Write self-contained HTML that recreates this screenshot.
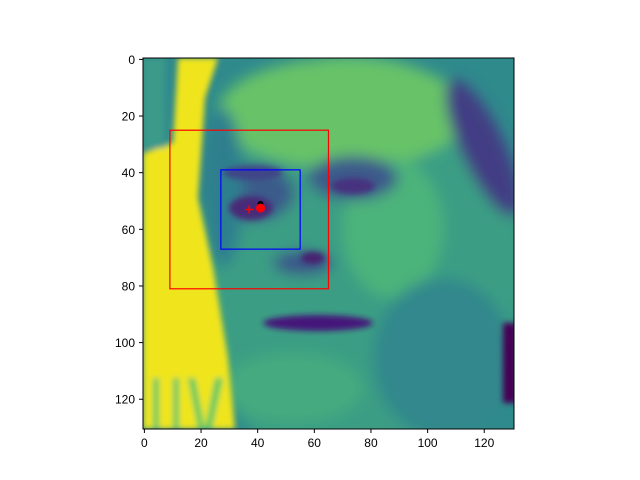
<!DOCTYPE html>
<html><head><meta charset="utf-8"><style>
body{margin:0;background:#fff;}
svg{display:block;font-family:"Liberation Sans",sans-serif;}
</style></head><body>
<svg width="640" height="480">
<defs>
<clipPath id="clip"><rect x="143" y="58" width="371" height="371"/></clipPath>
<filter id="blur" x="-20%" y="-20%" width="140%" height="140%"><feGaussianBlur stdDeviation="7"/></filter>
<filter id="blur2" x="-20%" y="-20%" width="140%" height="140%"><feGaussianBlur stdDeviation="3"/></filter>
</defs>
<g clip-path="url(#clip)">
<g transform="translate(143,58)">
<rect x="0" y="0" width="371" height="371" fill="#2f8a8c"/>
<g filter="url(#blur)">
<ellipse cx="215" cy="210" rx="165" ry="215" fill="#3a9e84"/>
<ellipse cx="200" cy="55" rx="125" ry="55" fill="#68c367"/>
<ellipse cx="250" cy="170" rx="50" ry="70" fill="#4cb47a"/>
<ellipse cx="300" cy="300" rx="70" ry="80" fill="#31888c"/>
<ellipse cx="150" cy="330" rx="70" ry="35" fill="#45aa7f"/>
<ellipse cx="340" cy="90" rx="22" ry="75" transform="rotate(-25 340 90)" fill="#433d84"/>
<ellipse cx="110" cy="135" rx="42" ry="28" fill="#3b5b8b"/>
<ellipse cx="210" cy="120" rx="45" ry="22" fill="#3e5a8b"/>
<ellipse cx="160" cy="205" rx="30" ry="12" fill="#3b528b"/>
<ellipse cx="80" cy="130" rx="20" ry="80" fill="#2f7f8e"/>
</g>
<g filter="url(#blur2)">
<ellipse cx="110" cy="115" rx="30" ry="7" fill="#414487"/>
<ellipse cx="108" cy="150" rx="22" ry="12" fill="#482a78"/>
<ellipse cx="210" cy="128" rx="22" ry="8" fill="#46337f"/>
<ellipse cx="175" cy="265" rx="55" ry="8" fill="#45187a"/>
<ellipse cx="170" cy="200" rx="12" ry="6" fill="#46206f"/>
<rect x="360" y="265" width="14" height="80" fill="#440154"/>
<polygon points="0,95 30,85 35,0 75,0 62,40 55,140 70,210 85,300 92,371 0,371" fill="#f0e51f"/>
<rect x="0" y="0" width="22" height="90" fill="#3a9a8a"/>
<rect x="10" y="320" width="6" height="51" fill="#5ec962"/>
<rect x="30" y="320" width="6" height="51" fill="#5ec962"/>
<polygon points="45,320 52,320 62,371 55,371" fill="#5ec962"/>
<polygon points="80,320 72,320 62,371 69,371" fill="#5ec962"/>
</g>
</g>
</g>
<rect x="143" y="58" width="371" height="371" fill="none" stroke="#000" stroke-width="1"/>
<g id="marks"></g>
<g id="xt" font-size="12" fill="#000"></g>
<g id="yt" font-size="12" fill="#000"></g>
<script>
const xTicks=[0,20,40,60,80,100,120];
const yTicks=[0,20,40,60,80,100,120];
const redBox=[9,25,65,81];
const blueBox=[27,39,55,67];
const plusPt=[37,53];
const redDot=[41,52.5];
const blackDot=[41,51];
const sx=v=>144.4+v*2.832, sy=v=>59.4+v*2.832;
const NS="http://www.w3.org/2000/svg";
function mk(t,a,p){const e=document.createElementNS(NS,t);for(const k in a)e.setAttribute(k,a[k]);p.appendChild(e);return e;}
const m=document.getElementById('marks');
let r=mk('rect',{x:sx(redBox[0]),y:sy(redBox[1]),width:sx(redBox[2])-sx(redBox[0]),height:sy(redBox[3])-sy(redBox[1]),fill:'none',stroke:'#f00','stroke-width':1.2},m);


let b=mk('rect',{x:sx(blueBox[0]),y:sy(blueBox[1]),width:sx(blueBox[2])-sx(blueBox[0]),height:sy(blueBox[3])-sy(blueBox[1]),fill:'none',stroke:'#00f','stroke-width':1.2},m);


let k=mk('circle',{cx:sx(blackDot[0]),cy:sy(blackDot[1]),r:3,fill:'#000'},m);


let d=mk('circle',{cx:sx(redDot[0]),cy:sy(redDot[1]),r:4.5,fill:'#f00'},m);


let px=sx(plusPt[0]),py=sy(plusPt[1]);
let pl=mk('path',{d:`M${px-4},${py}H${px+4}M${px},${py-4}V${py+4}`,stroke:'#f00','stroke-width':1.6},m);


const xt=document.getElementById('xt');
xTicks.forEach(v=>{const x=sx(v);
 const l=mk('line',{x1:x,x2:x,y1:429,y2:433,stroke:'#000'},xt);
 
 
 const t=mk('text',{x:x,y:447,'text-anchor':'middle'},xt);t.textContent=v;
 
 });
const yt=document.getElementById('yt');
yTicks.forEach(v=>{const y=sy(v);
 const l=mk('line',{x1:139,x2:143,y1:y,y2:y,stroke:'#000'},yt);
 
 
 const t=mk('text',{x:135,y:y+4.5,'text-anchor':'end'},yt);t.textContent=v;
 
 });
</script>
</svg>
</body></html>
